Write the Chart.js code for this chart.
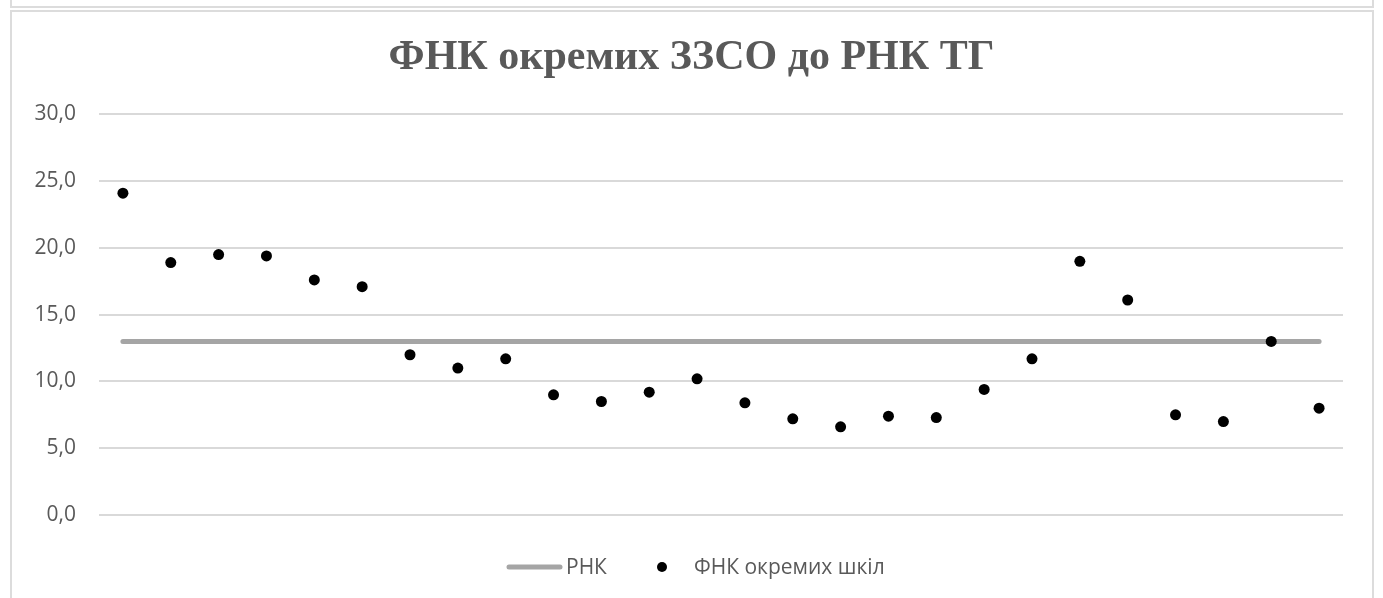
<!DOCTYPE html>
<html>
<head>
<meta charset="utf-8">
<script src="https://cdn.jsdelivr.net/npm/chart.js@4"></script>
<style>
  body { margin: 0; background: #fff; width: 1383px; height: 598px; overflow: hidden; position: relative; }
  .frame { position: absolute; border: 2px solid #dcdcdc; box-sizing: border-box; }
  #prev { left: 10px; top: -10px; width: 1364px; height: 18px; }
  #box { left: 10px; top: 10px; width: 1364px; height: 600px; }
  canvas { position: absolute; left: 0; top: 0; }
</style>
</head>
<body>
<div class="frame" id="prev"></div>
<div class="frame" id="box"></div>
<canvas id="myChart" width="1383" height="598"></canvas>
<script>
// schools (26 points)
const schools = ['1','2','3','4','5','6','7','8','9','10','11','12','13',
                 '14','15','16','17','18','19','20','21','22','23','24','25','26'];
const fnkValues = [24.1, 18.9, 19.5, 19.4, 17.6, 17.1, 12.0, 11.0, 11.7, 9.0, 8.5, 9.2, 10.2,
                   8.4, 7.2, 6.6, 7.4, 7.3, 9.4, 11.7, 19.0, 16.1, 7.5, 7.0, 13.0, 8.0];
const rnkValues = [13.0, 13.0, 13.0, 13.0, 13.0, 13.0, 13.0, 13.0, 13.0, 13.0, 13.0, 13.0, 13.0,
                   13.0, 13.0, 13.0, 13.0, 13.0, 13.0, 13.0, 13.0, 13.0, 13.0, 13.0, 13.0, 13.0];
const yTicks = [0, 5, 10, 15, 20, 25, 30];

const grey = '#595959';
const lineGrey = '#a5a5a5';
const tickFont = { family: 'Open Sans', size: 21 };

// legend drawn by hand, centered under the plot
const bottomLegend = {
    id: 'bottomLegend',
    afterDraw(chart) {
        const c = chart.ctx;
        const y = 567;
        c.save();
        c.font = '21px "Open Sans"';
        c.fillStyle = grey;
        c.textBaseline = 'middle';
        // РНК
        c.strokeStyle = lineGrey;
        c.lineWidth = 5;
        c.lineCap = 'round';
        c.beginPath();
        c.moveTo(509, y);
        c.lineTo(560, y);
        c.stroke();
        c.fillText('РНК', 566, y + 1);
        // points
        c.fillStyle = '#000';
        c.beginPath();
        c.arc(662, y, 5, 0, Math.PI * 2);
        c.fill();
        c.fillStyle = grey;
        c.fillText('ФНК окремих шкіл', 694, y + 1);
        c.restore();
    }
};

const ctx = document.getElementById('myChart').getContext('2d');
const myChart = new Chart(ctx, {
    type: 'line',
    data: {
        labels: schools,
        datasets: [
            {
                label: 'РНК',
                data: rnkValues,
                borderColor: lineGrey,
                borderWidth: 5,
                borderCapStyle: 'round',
                pointRadius: 0,
                order: 2
            },
            {
                label: 'ФНК окремих шкіл',
                data: fnkValues,
                showLine: false,
                pointRadius: 5.5,
                pointBackgroundColor: '#000',
                pointBorderWidth: 0,
                order: 1
            }
        ]
    },
    options: {
        responsive: false,
        animation: false,
        layout: { padding: { left: 0, right: 0, top: 0, bottom: 83 } },
        scales: {
            x: {
                display: false,
                offset: true
            },
            y: {
                min: 0,
                max: 30,
                afterBuildTicks: (axis) => { axis.ticks = yTicks.map(v => ({ value: v })); },
                afterFit: (axis) => { axis.width = 99; },
                border: { display: false },
                grid: { color: '#d9d9d9', lineWidth: 2, drawTicks: false },
                ticks: {
                    padding: 23,
                    color: grey,
                    font: tickFont,
                    callback: (v) => v.toFixed(1).replace('.', ',')
                }
            },
            // empty right axis, only keeps the plot symmetric under the title
            yRight: {
                position: 'right',
                afterFit: (axis) => { axis.width = 40; },
                border: { display: false },
                grid: { display: false },
                ticks: { display: false }
            }
        },
        plugins: {
            legend: { display: false },
            tooltip: { enabled: false },
            title: {
                display: true,
                text: 'ФНК окремих ЗЗСО до РНК ТГ',
                color: grey,
                font: { family: 'Liberation Serif', size: 42, weight: 'bold', lineHeight: 1.2 },
                padding: { top: 33, bottom: 31 }
            }
        }
    },
    plugins: [bottomLegend]
});
</script>
</body>
</html>
